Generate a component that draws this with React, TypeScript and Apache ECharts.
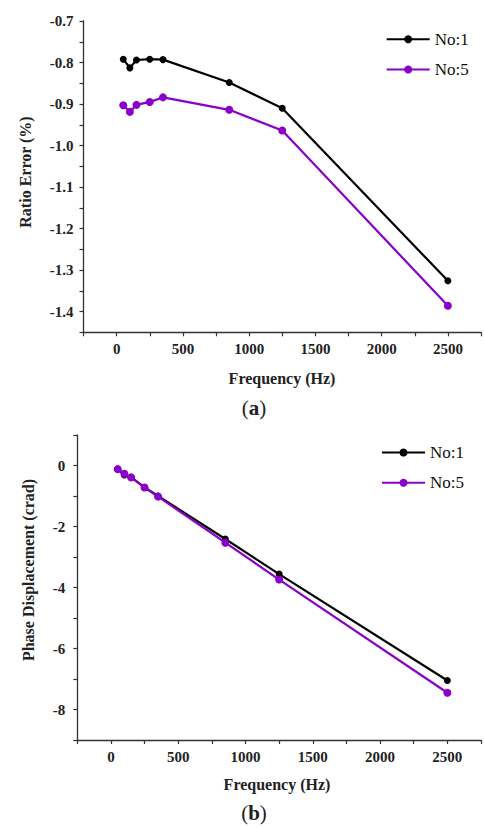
import React, { useEffect, useRef } from "react";
import * as echarts from "echarts";

const freq = [50, 100, 150, 250, 350, 850, 1250, 2500];
const ratioNo1 = [-0.792, -0.813, -0.794, -0.792, -0.793, -0.848, -0.91, -1.326];
const ratioNo5 = [-0.903, -0.919, -0.902, -0.895, -0.884, -0.914, -0.964, -1.386];
const phaseNo1 = [-0.12, -0.31, -0.39, -0.72, -1.0, -2.41, -3.56, -7.05];
const phaseNo5 = [-0.12, -0.27, -0.39, -0.72, -1.02, -2.53, -3.74, -7.45];
const seriesNames = ["No:1", "No:5"];

const BLACK = "#000000";
const PURPLE = "#8B00C9";
const FONT = "'Liberation Serif', serif";

const pairs = (ys: number[]) => freq.map((f, i) => [f, ys[i]]);

export default function App() {
  const ref = useRef<HTMLDivElement>(null);
  useEffect(() => {
    if (!ref.current) return;
    const chart = echarts.init(ref.current, null, { renderer: "svg" });
    const axisLine = { show: true, onZero: false, lineStyle: { color: "#333", width: 1.3 } };
    const axisTick = { show: true, length: 4, inside: false, lineStyle: { color: "#333", width: 1.2 } };
    const labelStyle = { fontFamily: FONT, fontWeight: "bold" as const, fontSize: 15, color: "#222" };
    const xFmt = (v: number) => (v % 500 === 0 ? String(v) : "");
    const mkLine = (name: string, color: string, data: number[][], xi: number, size: number) => ({
      type: "line",
      name,
      xAxisIndex: xi,
      yAxisIndex: xi,
      data,
      symbol: "circle",
      symbolSize: size,
      lineStyle: { color, width: 2.2 },
      itemStyle: { color },
      emphasis: { disabled: true },
    });
    const legendBase = {
      orient: "vertical" as const,
      itemWidth: 43,
      itemHeight: 10,
      itemGap: 13.3,
      textStyle: { fontFamily: FONT, fontSize: 17, color: "#111" },
      data: seriesNames,
      selectedMode: false,
    };
    const cap = (t: string, x: number, y: number, rot = 0) => ({
      type: "text",
      x,
      y,
      rotation: rot,
      style: {
        text: t,
        fontFamily: FONT,
        fontWeight: "bold",
        fontSize: 16,
        fill: "#222",
        align: "center",
        verticalAlign: "middle",
      },
    });
    const panel = (letter: string, x: number, y: number) => ({
      type: "text",
      x,
      y,
      style: {
        text: `{p|(}{b|${letter}}{p|)}`,
        align: "center",
        verticalAlign: "middle",
        rich: {
          p: { fontFamily: FONT, fontSize: 21, fill: "#222" },
          b: { fontFamily: FONT, fontSize: 21, fontWeight: "bold", fill: "#222" },
        },
      },
    });
    chart.setOption({
      animation: false,
      backgroundColor: "#fff",
      grid: [
        { left: 83.5, top: 21, width: 408, height: 311.3 },
        { left: 77.3, top: 435, width: 411, height: 305 },
      ],
      xAxis: [0, 1].map((i) => ({
        type: "value",
        gridIndex: i,
        min: -250,
        max: 2750,
        interval: 250,
        axisLine,
        axisTick,
        splitLine: { show: false },
        axisLabel: { ...labelStyle, margin: 9, formatter: xFmt },
      })),
      yAxis: [
        {
          type: "value",
          gridIndex: 0,
          min: -1.45,
          max: -0.7,
          interval: 0.05,
          axisLine,
          axisTick,
          splitLine: { show: false },
          axisLabel: {
            ...labelStyle,
            margin: 10,
            formatter: (v: number) => (Math.round(v * 20) % 2 === 0 ? v.toFixed(1) : ""),
          },
        },
        {
          type: "value",
          gridIndex: 1,
          min: -9,
          max: 1,
          interval: 1,
          axisLine,
          axisTick,
          splitLine: { show: false },
          axisLabel: {
            ...labelStyle,
            margin: 12,
            formatter: (v: number) => (Math.round(v) % 2 === 0 ? String(Math.round(v)) : ""),
          },
        },
      ],
      legend: [
        { ...legendBase, left: 380.7, top: 25.7 },
        { ...legendBase, left: 376, top: 439 },
      ],
      series: [
        mkLine(seriesNames[0], BLACK, pairs(ratioNo1), 0, 7),
        mkLine(seriesNames[1], PURPLE, pairs(ratioNo5), 0, 8),
        mkLine(seriesNames[0], BLACK, pairs(phaseNo1), 1, 7),
        mkLine(seriesNames[1], PURPLE, pairs(phaseNo5), 1, 8),
      ],
      graphic: [
        cap("Ratio Error (%)", 25, 172, Math.PI / 2),
        cap("Phase Displacement (crad)", 28, 570, Math.PI / 2),
        cap("Frequency (Hz)", 282, 378),
        cap("Frequency (Hz)", 277, 784),
        panel("a", 254, 408),
        panel("b", 254, 813),
      ],
    });
    return () => chart.dispose();
  }, []);
  return (
    <div
      ref={ref}
      style={{ position: "fixed", left: 0, top: 0, width: 484, height: 828 }}
    />
  );
}
